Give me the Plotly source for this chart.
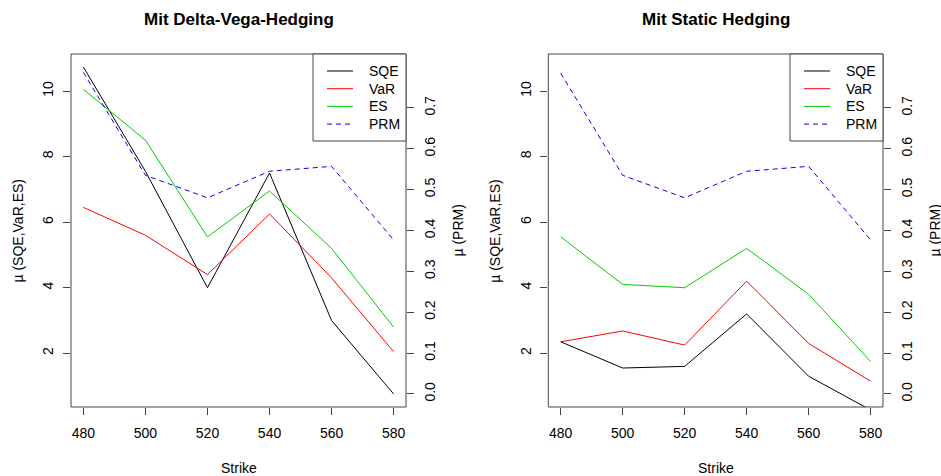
import plotly.graph_objects as go

strike = [480, 500, 520, 540, 560, 580]

# Mit Delta-Vega-Hedging
sqe_dv = [10.73, 7.55, 4.0, 7.5, 3.0, 0.76]
var_dv = [6.45, 5.6, 4.4, 6.25, 4.3, 2.05]
es_dv = [10.05, 8.5, 5.55, 6.95, 5.2, 2.8]
prm_dv = [0.787, 0.535, 0.48, 0.545, 0.557, 0.377]

# Mit Static Hedging
sqe_st = [2.35, 1.55, 1.6, 3.2, 1.3, 0.27]
var_st = [2.35, 2.68, 2.25, 4.2, 2.3, 1.15]
es_st = [5.55, 4.1, 4.0, 5.2, 3.8, 1.75]
prm_st = [0.785, 0.535, 0.48, 0.545, 0.557, 0.377]

titles = ["Mit Delta-Vega-Hedging", "Mit Static Hedging"]
series_names = ["SQE", "VaR", "ES", "PRM"]
series_colors = ["#000000", "#FF0000", "#00CD00", "#0000FF"]
series_dash = ["solid", "solid", "solid", "5px,4px"]
x_ticks = [480, 500, 520, 540, 560, 580]
y_ticks = [2, 4, 6, 8, 10]
prm_ticks = [0.0, 0.1, 0.2, 0.3, 0.4, 0.5, 0.6, 0.7]
prm_lim = [0.0, 0.8]

W, H = 941, 476
FONT = "Liberation Sans, Arial, Helvetica, sans-serif"
AX = "#444444"

lo = min(sqe_dv + var_dv + es_dv)
hi = max(sqe_dv + var_dv + es_dv)
pad = 0.04 * (hi - lo)
yrange = [lo - pad, hi + pad]
ppad = 0.04 * (prm_lim[1] - prm_lim[0])
prange = [prm_lim[0] - ppad, prm_lim[1] + ppad]
xpad = 0.04 * (max(strike) - min(strike))
xrange = [min(strike) - xpad, max(strike) + xpad]

panels = [
    dict(sqe=sqe_dv, var=var_dv, es=es_dv, prm=prm_dv, xd=[71 / W, 406 / W]),
    dict(sqe=sqe_st, var=var_st, es=es_st, prm=prm_st, xd=[548.3 / W, 883 / W]),
]
ydom = [1 - 407 / H, 1 - 54 / H]

fig = go.Figure()
shapes = []
annotations = []
layout = {}

for i, p in enumerate(panels):
    xa = "x" if i == 0 else "x2"
    ya = "y" if i == 0 else "y3"
    ya2 = "y2" if i == 0 else "y4"
    vals_list = [p["sqe"], p["var"], p["es"], p["prm"]]
    for k in range(4):
        fig.add_trace(go.Scatter(x=strike, y=vals_list[k], mode="lines",
                                 name=series_names[k],
                                 line=dict(color=series_colors[k], width=1,
                                           dash=series_dash[k]),
                                 xaxis=xa, yaxis=(ya2 if k == 3 else ya),
                                 showlegend=False))

    xk = "xaxis" if i == 0 else "xaxis2"
    yk = "yaxis" if i == 0 else "yaxis3"
    yk2 = "yaxis2" if i == 0 else "yaxis4"
    common = dict(showgrid=False, zeroline=False, showline=False, ticks="outside",
                  ticklen=7, tickwidth=1, tickcolor=AX,
                  tickfont=dict(family=FONT, size=14, color="#000"))
    layout[xk] = dict(domain=p["xd"], range=xrange, tickvals=x_ticks,
                      anchor=ya, ticklabelstandoff=6, **common)
    layout[yk] = dict(domain=ydom, range=yrange, tickvals=y_ticks, anchor=xa,
                      tickangle=-90, ticklabelstandoff=4, **common)
    layout[yk2] = dict(range=prange, tickvals=prm_ticks, tickformat=".1f",
                       overlaying=ya, side="right", anchor=xa, tickangle=-90,
                       ticklabelstandoff=4, **common)
    shapes.append(dict(type="rect", xref=f"{xa} domain", yref=f"{ya} domain",
                       x0=0, x1=1, y0=0, y1=1, line=dict(color=AX, width=1),
                       layer="above"))
    cx = (p["xd"][0] + p["xd"][1]) / 2
    annotations.append(dict(text=f"<b>{titles[i]}</b>", xref="paper", yref="paper",
                            x=cx, y=1 - 20 / H, showarrow=False,
                            font=dict(family=FONT, size=17, color="#000"),
                            xanchor="center", yanchor="middle"))
    annotations.append(dict(text="Strike", xref="paper", yref="paper",
                            x=cx, y=1 - 468 / H, showarrow=False,
                            font=dict(family=FONT, size=14, color="#000"),
                            xanchor="center", yanchor="middle"))
    annotations.append(dict(text="µ (SQE,VaR,ES)", xref="paper", yref="paper",
                            x=p["xd"][0] - 54 / W, y=(ydom[0] + ydom[1]) / 2,
                            showarrow=False, textangle=-90,
                            font=dict(family=FONT, size=14, color="#000"),
                            xanchor="center", yanchor="middle"))
    annotations.append(dict(text="µ (PRM)", xref="paper", yref="paper",
                            x=p["xd"][1] + 51 / W, y=(ydom[0] + ydom[1]) / 2,
                            showarrow=False, textangle=-90,
                            font=dict(family=FONT, size=14, color="#000"),
                            xanchor="center", yanchor="middle"))

    # legend box (top-right of the panel), R style
    right = p["xd"][1] * W
    top = 54
    shapes.append(dict(type="rect", xref="paper", yref="paper",
                       x0=(right - 93) / W, x1=right / W,
                       y0=1 - (top + 87) / H, y1=1 - top / H,
                       line=dict(color=AX, width=1), fillcolor="white",
                       layer="above"))
    for k in range(4):
        yrow = 1 - (top + 17 + 17.7 * k) / H
        shapes.append(dict(type="line", xref="paper", yref="paper",
                           x0=(right - 79) / W, x1=(right - 53) / W,
                           y0=yrow, y1=yrow, layer="above",
                           line=dict(color=series_colors[k], width=1,
                                     dash=series_dash[k])))
        annotations.append(dict(text=series_names[k], xref="paper", yref="paper",
                                x=(right - 39) / W, y=yrow, showarrow=False,
                                xanchor="left", yanchor="middle",
                                font=dict(family=FONT, size=14, color="#000")))

fig.update_layout(width=W, height=H, margin=dict(l=0, r=0, t=0, b=0),
                  paper_bgcolor="white", plot_bgcolor="white",
                  shapes=shapes, annotations=annotations, showlegend=False,
                  **layout)
fig.write_html("out.html")
